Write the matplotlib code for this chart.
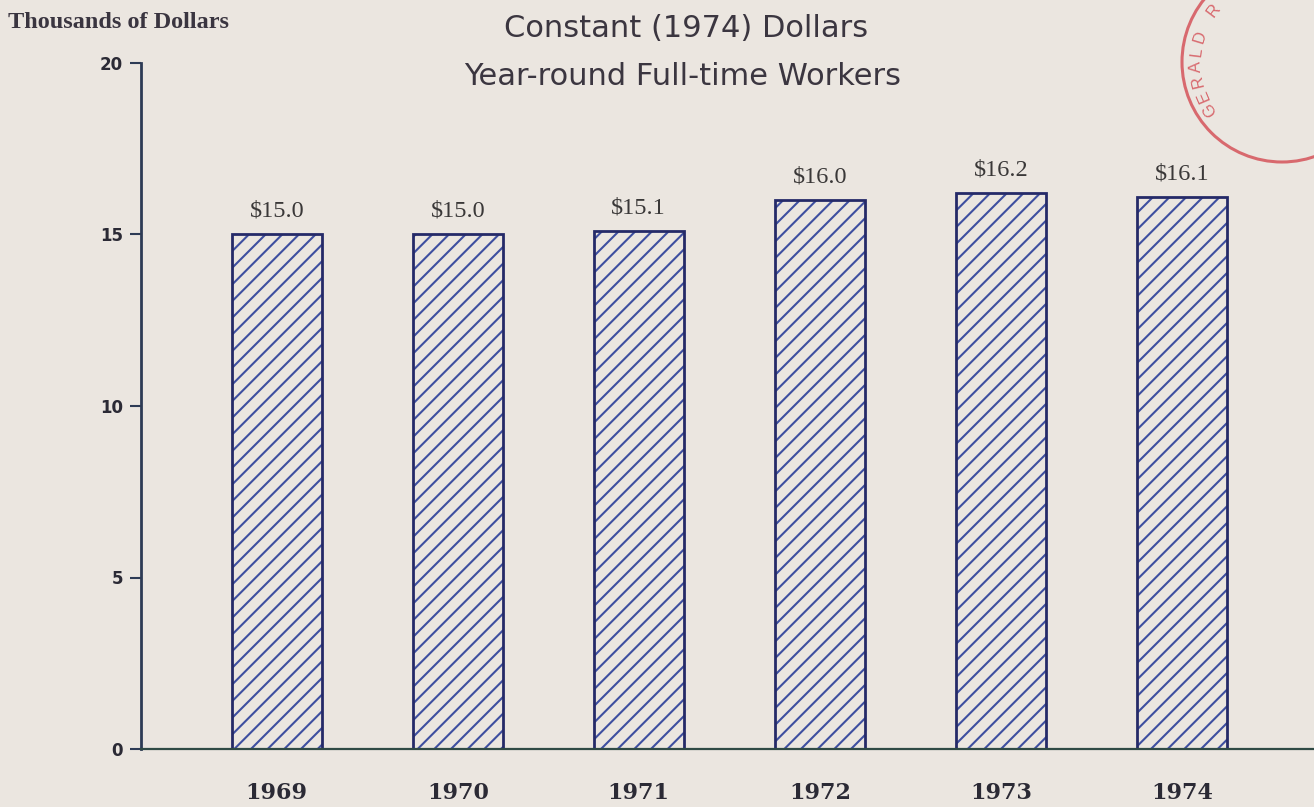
import numpy as np
import matplotlib.pyplot as plt
from matplotlib.patches import Circle

# median earnings, year-round full-time workers, constant 1974 dollars (thousands)
years = ['1969', '1970', '1971', '1972', '1973', '1974']
earnings = [15.0, 15.0, 15.1, 16.0, 16.2, 16.1]
y_ticks = [0, 5, 10, 15, 20]

paper = '#ebe6e0'
hatch_blue = '#3e4fa0'
edge_navy = '#252a68'
ink = '#2b2a35'

W, H = 1314, 807
fig = plt.figure(figsize=(W / 100, H / 100), dpi=100, facecolor=paper)
plt.rcParams['hatch.linewidth'] = 1.5

ax = fig.add_axes([141 / W, 1 - 749 / H, 1 - 141 / W, (749 - 63) / H])
ax.set_facecolor(paper)

x = np.arange(len(years))
# hatched fill, then a heavier outline on top
ax.bar(x, earnings, 0.5, color=paper, edgecolor=hatch_blue, hatch='//', linewidth=0)
ax.bar(x, earnings, 0.5, fill=False, edgecolor=edge_navy, linewidth=2)

for xi, v in zip(x, earnings):
    ax.annotate('${:.1f}'.format(v), (xi, v), xytext=(0, 9), textcoords='offset points',
                ha='center', va='bottom', fontsize=17.5, family='Liberation Serif',
                color='#3a3838')

ax.set_xlim(-0.75, 5.73)
ax.set_ylim(0, 20)
ax.set_yticks(y_ticks)
ax.set_yticklabels([str(t) for t in y_ticks], fontsize=12, fontweight='bold',
                   family='DejaVu Sans', color=ink)
ax.set_xticks(x)
ax.set_xticklabels(years, fontsize=16, fontweight='bold', family='DejaVu Serif', color=ink)
ax.tick_params(axis='x', length=0, pad=24)
ax.tick_params(axis='y', direction='out', length=8, width=1.5, pad=5, color='#2d3b55')

for side in ('top', 'right'):
    ax.spines[side].set_visible(False)
ax.spines['left'].set_color('#2d3b55')
ax.spines['left'].set_linewidth(2)
ax.spines['bottom'].set_color('#2f4a45')
ax.spines['bottom'].set_linewidth(1.6)

fig.text(8 / W, 1 - 22 / H, 'Thousands of Dollars', ha='left', va='center',
         fontsize=17.5, fontweight='bold', family='Liberation Serif', color='#3a3540')
fig.text(686 / W, 1 - 37 / H, 'Constant (1974) Dollars', ha='center', va='baseline',
         fontsize=22, family='DejaVu Sans', color='#3b3640')
fig.text(683 / W, 1 - 85 / H, 'Year-round Full-time Workers', ha='center', va='baseline',
         fontsize=22, family='DejaVu Sans', color='#3b3640')

# library stamp in the top right corner, drawn in pixel units
ov = fig.add_axes([0, 0, 1, 1])
ov.set_xlim(0, W)
ov.set_ylim(H, 0)
ov.axis('off')
ov.patch.set_alpha(0)
cx, cy = 1282, 62
ov.add_patch(Circle((cx, cy), 100, fill=False, ec='#d8696e', lw=2.2))
for i, ch in enumerate('GERALD R. FORD'):
    ang = 213 - i * 10
    r = 86
    px = cx + r * np.cos(np.radians(ang))
    py = cy - r * np.sin(np.radians(ang))
    if py < 9:
        continue
    ov.text(px, py, ch, rotation=ang - 90, ha='center', va='center', fontsize=12,
            family='Liberation Sans', color='#d8696e')

fig.savefig('out.png', dpi=100, facecolor=paper)
